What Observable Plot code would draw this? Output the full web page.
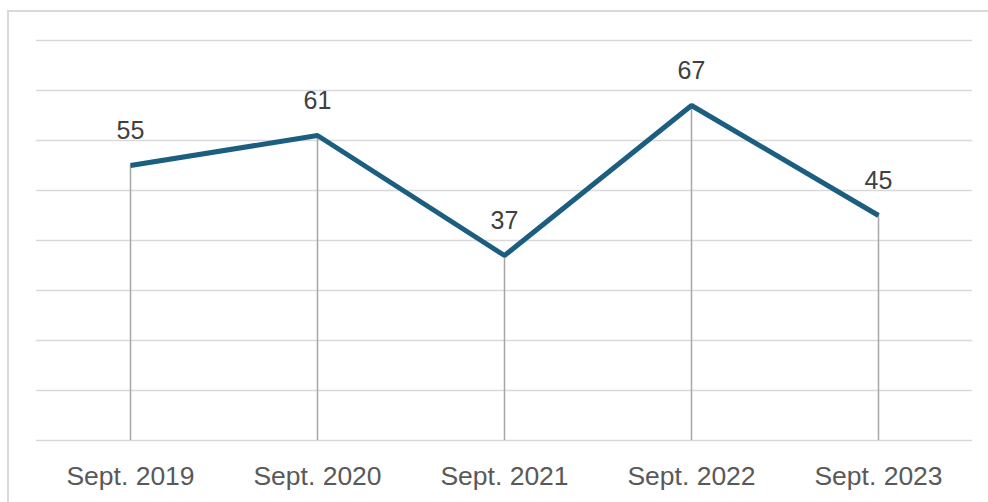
<!DOCTYPE html>
<html>
<head>
<meta charset="utf-8">
<script src="https://cdn.jsdelivr.net/npm/d3@7"></script>
<script src="https://cdn.jsdelivr.net/npm/@observablehq/plot@0.6"></script>
<style>
  html, body { margin: 0; padding: 0; background: #fff; overflow: hidden; }
  #wrap { position: relative; width: 988px; height: 502px; }
  #border { position: absolute; left: 7px; top: 10px; width: 1000px; height: 520px; border: 2px solid #d9d9d9; box-sizing: border-box; pointer-events: none; }
  #chart { position: absolute; left: 0; top: 0; }
</style>
</head>
<body>
<div id="wrap"><div id="border"></div><div id="chart"></div></div>
<script>
const categories = ["Sept. 2019", "Sept. 2020", "Sept. 2021", "Sept. 2022", "Sept. 2023"];
const values = [55, 61, 37, 67, 45];
const gridTicks = [0, 10, 20, 30, 40, 50, 60, 70, 80];

const data = categories.map((c, i) => ({cat: c, v: values[i]}));

const chart = Plot.plot({
  width: 988,
  height: 502,
  marginLeft: 36,
  marginRight: 16,
  marginTop: 40,
  marginBottom: 62,
  style: {fontFamily: "'Liberation Sans', Arial, sans-serif", background: "transparent"},
  x: {type: "point", domain: categories, padding: 0.5, label: null},
  y: {domain: [0, 80], axis: null},
  marks: [
    Plot.ruleY(gridTicks, {stroke: "#d9d9d9", strokeWidth: 1.5}),
    Plot.ruleX(data, {x: "cat", y1: 0, y2: "v", stroke: "#a6a6a6", strokeWidth: 1.5}),
    Plot.line(data, {x: "cat", y: "v", stroke: "#1b5e80", strokeWidth: 5, strokeLinejoin: "miter", strokeLinecap: "butt"}),
    Plot.text(data, {x: "cat", y: "v", text: d => String(d.v), dy: -35, fontSize: 25, fill: "#404040"}),
    Plot.axisX({tickSize: 0, tickPadding: 26, fontSize: 26.5, color: "#595959", label: null})
  ]
});
document.getElementById("chart").appendChild(chart);
</script>
</body>
</html>
